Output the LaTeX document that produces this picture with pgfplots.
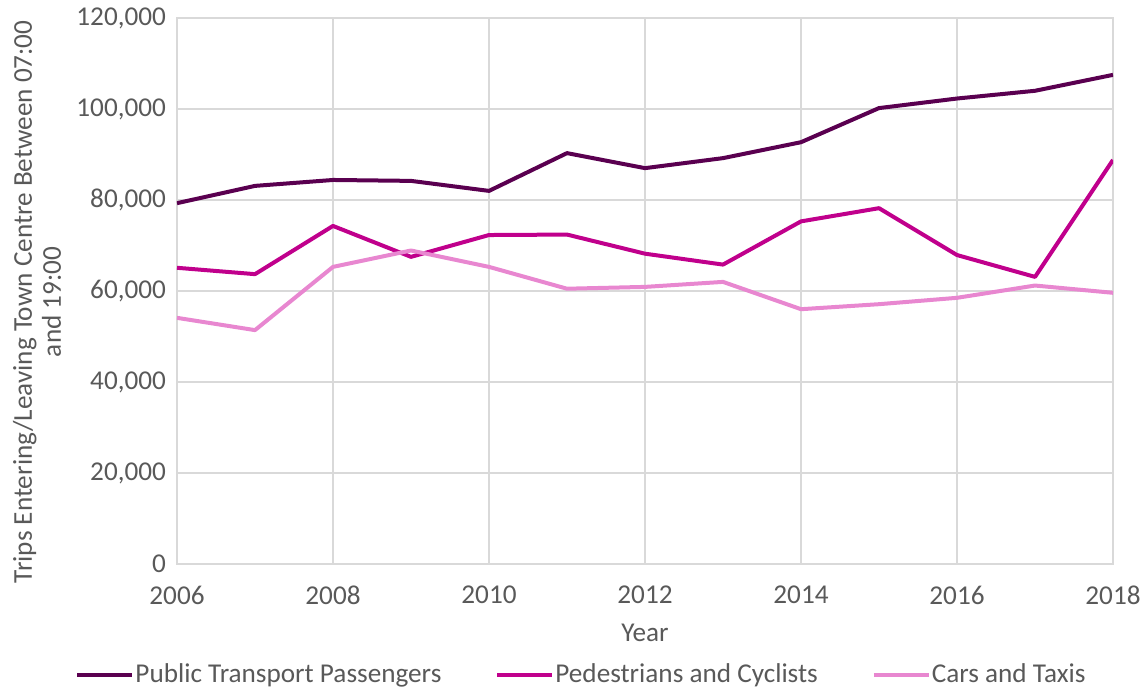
\documentclass[border=0pt]{standalone}
\usepackage{fontspec}
\setmainfont{Carlito}
\usepackage{pgfplots}
\pgfplotsset{compat=1.18}
\definecolor{cPT}{HTML}{5A0050}
\definecolor{cPed}{HTML}{C0008C}
\definecolor{cCar}{HTML}{E887D0}
\definecolor{gridc}{HTML}{D9D9D9}
\definecolor{txt}{HTML}{595959}
\begin{document}
\begin{tikzpicture}
\useasboundingbox (-88.5pt,-62.5pt) rectangle (483pt,282pt);
\begin{axis}[
  at={(0,0)}, anchor=south west,
  scale only axis, width=468pt, height=273pt,
  xmin=2006, xmax=2018, ymin=0, ymax=120000,
  xtick={2006,2008,2010,2012,2014,2016,2018},
  xticklabels={2006,2008,2010,2012,2014,2016,2018},
  ytick={0,20000,40000,60000,80000,100000,120000},
  yticklabels={0,{20,000},{40,000},{60,000},{80,000},{100,000},{120,000}},
  grid=major, major grid style={gridc, line width=0.8pt},
  axis line style={gridc, line width=0.8pt},
  tick style={draw=none},
  font=\fontsize{13.6pt}{16pt}\selectfont,
  tick label style={txt, font=\fontsize{13.6pt}{16pt}\selectfont},
  xticklabel style={anchor=center, yshift=-15.5pt},
  yticklabel style={anchor=east, xshift=-2pt},
  scaled y ticks=false,
  xlabel={Year},
  xlabel style={txt, font=\fontsize{13.6pt}{16pt}\selectfont,
    at={(axis description cs:0.5,-0.1264)}, anchor=center},
  ylabel={Trips Entering/Leaving Town Centre Between 07:00\\and 19:00},
  ylabel style={txt, align=center, font=\fontsize{13.6pt}{14.5pt}\selectfont,
    at={(axis description cs:-0.1496,0.48)}, anchor=center, rotate=0},
  legend style={at={(0.4316,-0.2033)}, anchor=center, draw=none, fill=none,
    legend columns=3, font=\fontsize{13.6pt}{16pt}\selectfont, text=txt,
    nodes={inner sep=0.5pt},
    /tikz/every even column/.append style={column sep=26.5pt}},
  legend image code/.code={\draw[#1, line width=2pt] (0pt,0pt) -- (27.5pt,0pt);},
  every axis plot/.append style={line width=2pt, line join=round},
]
\addplot[cPT, mark=none] coordinates {
(2006,79300) (2007,83100) (2008,84400) (2009,84200) (2010,82000) (2011,90300)
(2012,87000) (2013,89200) (2014,92700) (2015,100200) (2016,102300) (2017,104000) (2018,107500)};
\addlegendentry{Public Transport Passengers}
\addplot[cPed, mark=none] coordinates {
(2006,65100) (2007,63700) (2008,74300) (2009,67500) (2010,72300) (2011,72400)
(2012,68200) (2013,65800) (2014,75300) (2015,78200) (2016,67900) (2017,63100) (2018,88800)};
\addlegendentry{Pedestrians and Cyclists}
\addplot[cCar, mark=none] coordinates {
(2006,54100) (2007,51400) (2008,65300) (2009,68900) (2010,65300) (2011,60500)
(2012,60900) (2013,62000) (2014,56000) (2015,57100) (2016,58500) (2017,61200) (2018,59600)};
\addlegendentry{Cars and Taxis}
\end{axis}
\end{tikzpicture}
\end{document}
